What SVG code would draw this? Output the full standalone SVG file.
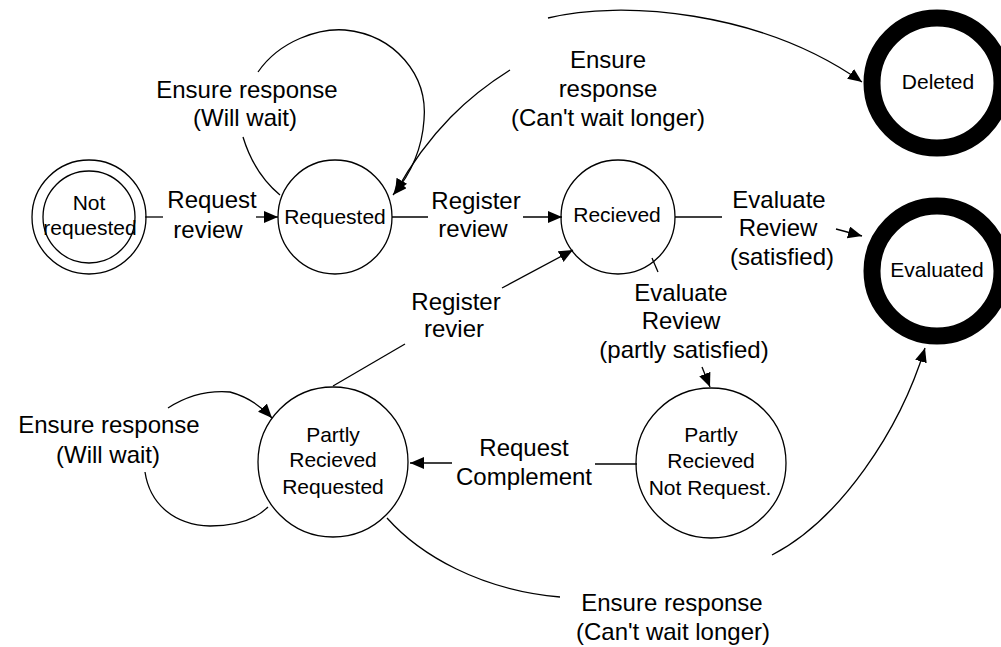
<svg xmlns="http://www.w3.org/2000/svg" width="1001" height="647" viewBox="0 0 1001 647">
<style>
.n{fill:none;stroke:#000;stroke-width:1.3}
.f{fill:none;stroke:#000;stroke-width:17}
.c{fill:none;stroke:#000;stroke-width:1.3}
.nl{font-family:"Liberation Sans",Arial,sans-serif;font-size:21px;fill:#000;text-anchor:middle}
.el{font-family:"Liberation Sans",Arial,sans-serif;font-size:24px;fill:#000;text-anchor:middle}
</style>
<defs>
<marker id="a" markerUnits="userSpaceOnUse" markerWidth="16" markerHeight="14" refX="14" refY="6" orient="auto">
<path d="M0,0 L14,6 L0,12 z" fill="#000"/>
</marker>
</defs>
<rect width="1001" height="647" fill="#fff"/>
<g id="connectors">
<line class="c" x1="145" y1="217" x2="163" y2="217"/>
<line class="c" x1="256" y1="217" x2="278" y2="217" marker-end="url(#a)"/>
<line class="c" x1="392" y1="217" x2="428" y2="217"/>
<line class="c" x1="523" y1="217" x2="562" y2="217" marker-end="url(#a)"/>
<line class="c" x1="675" y1="217" x2="722" y2="217"/>
<line class="c" x1="836" y1="229" x2="862" y2="236" marker-end="url(#a)"/>
<path class="c" d="M258,72 C280,40 320,28 345,30 C395,35 428,75 424,120 C422,150 410,175 393,195" marker-end="url(#a)"/>
<path class="c" d="M243,137 C250,160 262,180 280,195"/>
<path class="c" d="M510,70 C470,95 430,130 395,193" marker-end="url(#a)"/>
<path class="c" d="M548,18 C620,0 760,10 862,82" marker-end="url(#a)"/>
<line class="c" x1="333" y1="386" x2="405" y2="344"/>
<line class="c" x1="502" y1="288" x2="573" y2="250" marker-end="url(#a)"/>
<line class="c" x1="652" y1="258" x2="658" y2="272"/>
<line class="c" x1="702" y1="367" x2="710" y2="387" marker-end="url(#a)"/>
<line class="c" x1="637" y1="464" x2="595" y2="464"/>
<line class="c" x1="452" y1="463" x2="410" y2="463" marker-end="url(#a)"/>
<path class="c" d="M168,408 C185,397 205,390 230,392 C245,396 260,405 272,418" marker-end="url(#a)"/>
<path class="c" d="M145,472 C150,505 175,525 210,526 C235,526 255,520 268,507"/>
<path class="c" d="M387,518 C420,555 480,590 560,597"/>
<path class="c" d="M772,555 C840,520 900,430 925,348" marker-end="url(#a)"/>
</g>
<g id="labels">
<text class="el" x="212" y="208">Request</text>
<text class="el" x="208" y="238">review</text>
<text class="el" x="247" y="98">Ensure response</text>
<text class="el" x="245" y="126">(Will wait)</text>
<text class="el" x="608" y="68">Ensure</text>
<text class="el" x="608" y="97">response</text>
<text class="el" x="608" y="126">(Can't wait longer)</text>
<text class="el" x="476" y="209">Register</text>
<text class="el" x="473" y="237">review</text>
<text class="el" x="779" y="208">Evaluate</text>
<text class="el" x="778" y="236">Review</text>
<text class="el" x="782" y="265">(satisfied)</text>
<text class="el" x="456" y="310">Register</text>
<text class="el" x="454" y="337">revier</text>
<text class="el" x="681" y="301">Evaluate</text>
<text class="el" x="681" y="329">Review</text>
<text class="el" x="684" y="358">(partly satisfied)</text>
<text class="el" x="524" y="456">Request</text>
<text class="el" x="524" y="485">Complement</text>
<text class="el" x="109" y="433">Ensure response</text>
<text class="el" x="108" y="463">(Will wait)</text>
<text class="el" x="672" y="611">Ensure response</text>
<text class="el" x="673" y="640">(Can't wait longer)</text>
</g>
<g id="not-requested">
<circle class="n" cx="89" cy="217" r="57"/>
<circle class="n" cx="89" cy="217" r="46"/>
<text class="nl" x="89" y="210">Not</text>
<text class="nl" x="90" y="235">requested</text>
</g>
<g id="requested">
<circle class="n" cx="335" cy="217" r="57"/>
<text class="nl" x="335" y="224">Requested</text>
</g>
<g id="recieved">
<circle class="n" cx="618" cy="217" r="57"/>
<text class="nl" x="617" y="222">Recieved</text>
</g>
<g id="deleted">
<circle class="f" cx="937" cy="83" r="65"/>
<text class="nl" x="938" y="89">Deleted</text>
</g>
<g id="evaluated">
<circle class="f" cx="937" cy="271" r="65"/>
<text class="nl" x="937" y="277">Evaluated</text>
</g>
<g id="partly-recieved-requested">
<circle class="n" cx="333" cy="462" r="75"/>
<text class="nl" x="333" y="442">Partly</text>
<text class="nl" x="333" y="467">Recieved</text>
<text class="nl" x="333" y="494">Requested</text>
</g>
<g id="partly-recieved-not-requested">
<circle class="n" cx="711" cy="463" r="75"/>
<text class="nl" x="711" y="442">Partly</text>
<text class="nl" x="711" y="468">Recieved</text>
<text class="nl" x="710" y="495">Not Request.</text>
</g>
</svg>
